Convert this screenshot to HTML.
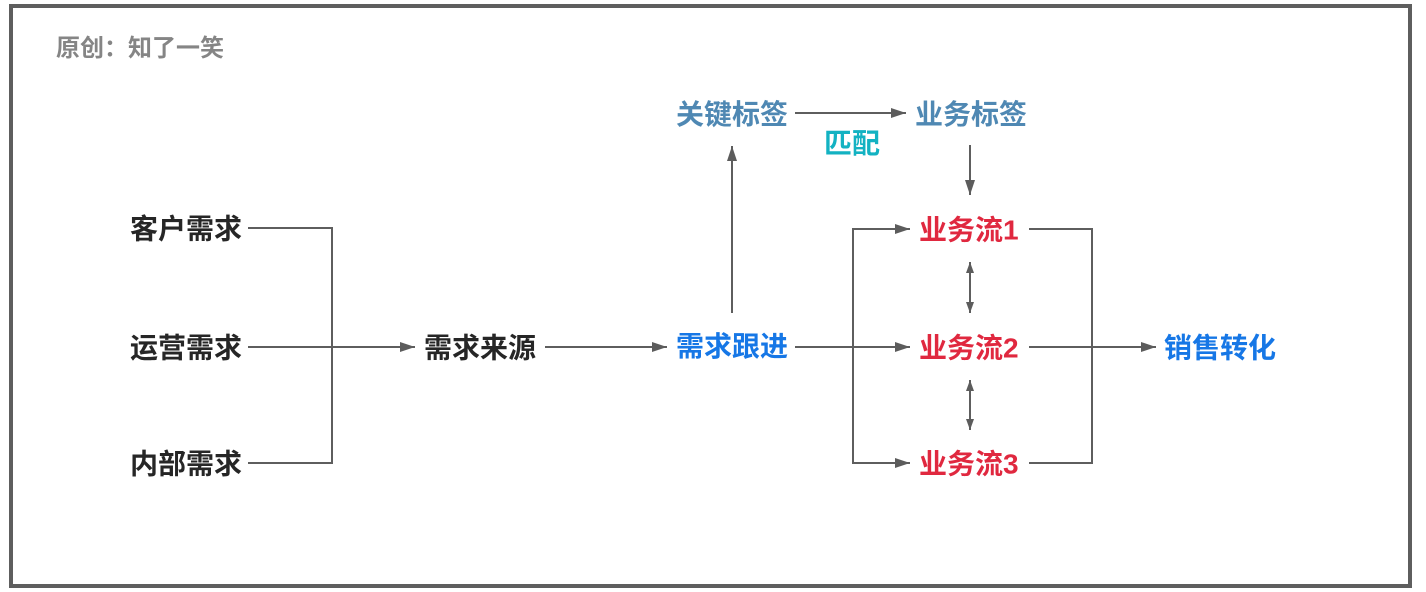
<!DOCTYPE html>
<html>
<head>
<meta charset="utf-8">
<style>
  html, body { margin: 0; padding: 0; background: #fff; }
  body { width: 1426px; height: 592px; overflow: hidden; }
  svg { display: block; }
  text { font-family: "Liberation Sans", "Noto Sans CJK SC", "WenQuanYi Zen Hei", sans-serif; font-weight: bold; }
</style>
</head>
<body>
<svg width="1426" height="592" viewBox="0 0 1426 592" xmlns="http://www.w3.org/2000/svg">
  <defs>
    <marker id="ah" markerWidth="16" markerHeight="12" refX="15" refY="6" orient="auto" markerUnits="userSpaceOnUse">
      <path d="M0,1 L15,6 L0,11 Z" fill="#5c5c5c"/>
    </marker>
    <marker id="ahs" markerWidth="12" markerHeight="10" refX="11" refY="5" orient="auto-start-reverse" markerUnits="userSpaceOnUse">
      <path d="M0,1 L11,5 L0,9 Z" fill="#5c5c5c"/>
    </marker>
  </defs>

  <!-- frame -->
  <rect x="11" y="6" width="1399" height="580" fill="#fff" stroke="#5e5e5e" stroke-width="4"/>

  <!-- title -->
  <text x="56" y="56" font-size="24" fill="#858585">原创：知了一笑</text>

  <g stroke="#5e5e5e" stroke-width="2" fill="none">
    <!-- left bracket -->
    <polyline points="248,228 332,228 332,463 248,463"/>
    <line x1="248" y1="347" x2="415" y2="347" marker-end="url(#ah)"/>
    <!-- 需求来源 -> 需求跟进 -->
    <line x1="545" y1="347" x2="667" y2="347" marker-end="url(#ah)"/>
    <!-- 需求跟进 -> 关键标签 -->
    <line x1="732" y1="313" x2="732" y2="146" marker-end="url(#ah)"/>
    <!-- 关键标签 -> 业务标签 -->
    <line x1="795" y1="113" x2="906" y2="113" marker-end="url(#ah)"/>
    <!-- 业务标签 -> 业务流1 -->
    <line x1="970" y1="145" x2="970" y2="195" marker-end="url(#ah)"/>
    <!-- fan out -->
    <line x1="795" y1="347" x2="910" y2="347" marker-end="url(#ah)"/>
    <polyline points="910,229 853,229 853,463 910,463" />
    <line x1="853" y1="229" x2="910" y2="229" marker-end="url(#ah)"/>
    <line x1="853" y1="463" x2="910" y2="463" marker-end="url(#ah)"/>
    <!-- double arrows -->
    <line x1="970" y1="262" x2="970" y2="313" marker-start="url(#ahs)" marker-end="url(#ahs)"/>
    <line x1="970" y1="380" x2="970" y2="430" marker-start="url(#ahs)" marker-end="url(#ahs)"/>
    <!-- right bracket -->
    <polyline points="1029,229 1092,229 1092,463 1029,463"/>
    <line x1="1029" y1="347" x2="1156" y2="347" marker-end="url(#ah)"/>
  </g>

  <!-- nodes -->
  <g font-size="28">
    <text x="130" y="238.5" fill="#262626">客户需求</text>
    <text x="130" y="357.5" fill="#262626">运营需求</text>
    <text x="130" y="473.5" fill="#262626">内部需求</text>
    <text x="424" y="357.5" fill="#262626">需求来源</text>
    <text x="676" y="356" fill="#1677e6">需求跟进</text>
    <text x="676" y="124" fill="#4f88b3">关键标签</text>
    <text x="915" y="124" fill="#4f88b3">业务标签</text>
    <text x="824" y="153" fill="#13b2c2">匹配</text>
    <text x="919" y="239.5" fill="#e0283f">业务流1</text>
    <text x="919" y="357.5" fill="#e0283f">业务流2</text>
    <text x="919" y="473.5" fill="#e0283f">业务流3</text>
    <text x="1164" y="357.5" fill="#1677e6">销售转化</text>
  </g>
</svg>
</body>
</html>
